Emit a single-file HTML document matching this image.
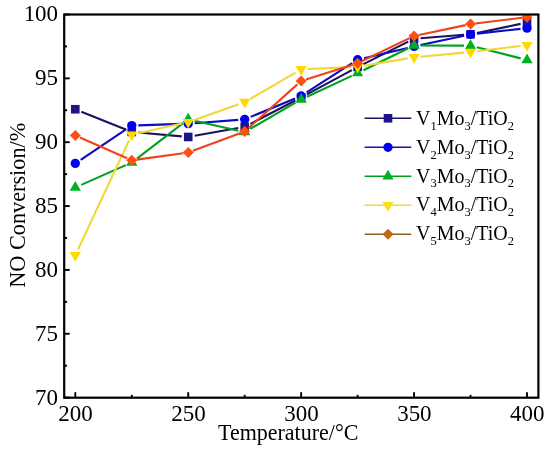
<!DOCTYPE html>
<html><head><meta charset="utf-8"><style>
html,body{margin:0;padding:0;background:#fff;}
body{width:550px;height:453px;overflow:hidden;}
svg{display:block;will-change:transform;font-family:"Liberation Serif",serif;}
</style></head><body>
<svg width="550" height="453" viewBox="0 0 550 453">
<rect width="550" height="453" fill="#fff"/>
<defs><clipPath id="pc"><rect x="64.2" y="14.5" width="474.2" height="383.2"/></clipPath></defs>
<g clip-path="url(#pc)">
<path d="M81.33 111.68L125.73 129.56M138.24 132.56L181.75 136.39M194.62 135.82L238.29 128.02M250.45 123.88L295.38 100.50M306.87 94.41L351.89 70.08M363.43 64.08L408.26 41.67M420.55 38.25L464.06 34.81M476.90 32.97L520.64 23.87" fill="none" stroke="#1a1460" stroke-width="2.1"/>
<rect x="71.00" y="104.95" width="8.60" height="8.60" fill="#1e148a"/>
<rect x="127.46" y="127.68" width="8.60" height="8.60" fill="#1e148a"/>
<rect x="183.93" y="132.66" width="8.60" height="8.60" fill="#1e148a"/>
<rect x="240.39" y="122.58" width="8.60" height="8.60" fill="#1e148a"/>
<rect x="296.85" y="93.20" width="8.60" height="8.60" fill="#1e148a"/>
<rect x="353.31" y="62.68" width="8.60" height="8.60" fill="#1e148a"/>
<rect x="409.78" y="34.46" width="8.60" height="8.60" fill="#1e148a"/>
<rect x="466.24" y="29.99" width="8.60" height="8.60" fill="#1e148a"/>
<rect x="522.70" y="18.25" width="8.60" height="8.60" fill="#1e148a"/>
<path d="M80.70 159.78L126.36 129.21M138.26 125.38L181.73 123.90M194.71 123.19L238.21 119.84M250.69 116.86L295.14 98.46M306.62 92.46L352.14 63.22M363.94 58.22L407.75 47.91M420.43 45.06L464.18 35.66M477.00 33.59L520.54 28.87" fill="none" stroke="#0c0cc0" stroke-width="2.1"/>
<circle cx="75.30" cy="163.40" r="4.65" fill="#0000f0"/>
<circle cx="131.76" cy="125.60" r="4.65" fill="#0000f0"/>
<circle cx="188.23" cy="123.68" r="4.65" fill="#0000f0"/>
<circle cx="244.69" cy="119.34" r="4.65" fill="#0000f0"/>
<circle cx="301.15" cy="95.97" r="4.65" fill="#0000f0"/>
<circle cx="357.61" cy="59.71" r="4.65" fill="#0000f0"/>
<circle cx="414.08" cy="46.42" r="4.65" fill="#0000f0"/>
<circle cx="470.54" cy="34.29" r="4.65" fill="#0000f0"/>
<circle cx="527.00" cy="28.16" r="4.65" fill="#0000f0"/>
<path d="M81.24 184.90L125.82 165.14M136.92 158.55L183.07 123.17M194.56 120.66L238.35 130.66M250.31 128.85L295.52 102.68M307.04 96.68L351.72 75.86M363.45 70.25L408.24 48.27M420.57 45.43L464.04 45.63M476.84 47.25L520.70 58.37" fill="none" stroke="#00a020" stroke-width="2.1"/>
<polygon points="75.30,181.07 80.90,190.77 69.70,190.77" fill="#00b020"/>
<polygon points="131.76,156.04 137.36,165.74 126.16,165.74" fill="#00b020"/>
<polygon points="188.23,112.75 193.83,122.45 182.63,122.45" fill="#00b020"/>
<polygon points="244.69,125.65 250.29,135.34 239.09,135.34" fill="#00b020"/>
<polygon points="301.15,92.95 306.75,102.65 295.55,102.65" fill="#00b020"/>
<polygon points="357.61,66.65 363.21,76.35 352.01,76.35" fill="#00b020"/>
<polygon points="414.08,38.94 419.68,48.64 408.48,48.64" fill="#00b020"/>
<polygon points="470.54,39.19 476.14,48.89 464.94,48.89" fill="#00b020"/>
<polygon points="527.00,53.49 532.60,63.19 521.40,63.19" fill="#00b020"/>
<path d="M78.06 249.33L129.01 140.55M138.11 133.26L181.88 123.56M194.35 119.98L238.56 104.28M250.31 98.84L295.53 72.55M307.64 69.00L351.12 67.14M364.02 65.77L407.67 58.37M420.55 56.68L464.07 52.64M476.99 51.27L520.55 46.05" fill="none" stroke="#f0d838" stroke-width="2.1"/>
<polygon points="75.30,261.68 80.90,251.98 69.70,251.98" fill="#ffd800"/>
<polygon points="131.76,141.13 137.36,131.43 126.16,131.43" fill="#ffd800"/>
<polygon points="188.23,128.62 193.83,118.92 182.63,118.92" fill="#ffd800"/>
<polygon points="244.69,108.57 250.29,98.87 239.09,98.87" fill="#ffd800"/>
<polygon points="301.15,75.75 306.75,66.05 295.55,66.05" fill="#ffd800"/>
<polygon points="357.61,73.32 363.21,63.62 352.01,63.62" fill="#ffd800"/>
<polygon points="414.08,63.75 419.68,54.05 408.48,54.05" fill="#ffd800"/>
<polygon points="470.54,58.51 476.14,48.81 464.94,48.81" fill="#ffd800"/>
<polygon points="527.00,51.74 532.60,42.04 521.40,42.04" fill="#ffd800"/>
<path d="M79.88 137.57L127.18 158.32M136.72 159.65L183.27 153.23M192.91 150.80L240.00 133.22M248.42 128.14L297.42 84.36M305.92 79.52L352.85 64.66M362.12 60.98L409.57 38.12M418.97 34.92L465.64 25.11M475.50 23.47L522.04 17.79" fill="none" stroke="#f0421c" stroke-width="2.1"/>
<polygon points="75.30,130.06 80.80,135.56 75.30,141.06 69.80,135.56" fill="#ff5010"/>
<polygon points="131.76,154.83 137.26,160.33 131.76,165.83 126.26,160.33" fill="#ff5010"/>
<polygon points="188.23,147.04 193.73,152.54 188.23,158.04 182.73,152.54" fill="#ff5010"/>
<polygon points="244.69,125.97 250.19,131.47 244.69,136.97 239.19,131.47" fill="#ff5010"/>
<polygon points="301.15,75.53 306.65,81.03 301.15,86.53 295.65,81.03" fill="#ff5010"/>
<polygon points="357.61,57.65 363.11,63.15 357.61,68.65 352.11,63.15" fill="#ff5010"/>
<polygon points="414.08,30.45 419.58,35.95 414.08,41.45 408.58,35.95" fill="#ff5010"/>
<polygon points="470.54,18.58 476.04,24.08 470.54,29.58 465.04,24.08" fill="#ff5010"/>
<polygon points="527.00,11.68 532.50,17.18 527.00,22.68 521.50,17.18" fill="#ff5010"/>
</g>
<rect x="64.2" y="14.5" width="474.2" height="383.2" fill="none" stroke="#000" stroke-width="2.2"/>
<line x1="75.30" y1="397.7" x2="75.30" y2="392.20" stroke="#000" stroke-width="1.9"/>
<line x1="131.76" y1="397.7" x2="131.76" y2="394.80" stroke="#000" stroke-width="1.9"/>
<line x1="188.23" y1="397.7" x2="188.23" y2="392.20" stroke="#000" stroke-width="1.9"/>
<line x1="244.69" y1="397.7" x2="244.69" y2="394.80" stroke="#000" stroke-width="1.9"/>
<line x1="301.15" y1="397.7" x2="301.15" y2="392.20" stroke="#000" stroke-width="1.9"/>
<line x1="357.61" y1="397.7" x2="357.61" y2="394.80" stroke="#000" stroke-width="1.9"/>
<line x1="414.08" y1="397.7" x2="414.08" y2="392.20" stroke="#000" stroke-width="1.9"/>
<line x1="470.54" y1="397.7" x2="470.54" y2="394.80" stroke="#000" stroke-width="1.9"/>
<line x1="527.00" y1="397.7" x2="527.00" y2="392.20" stroke="#000" stroke-width="1.9"/>
<line x1="64.2" y1="397.60" x2="69.70" y2="397.60" stroke="#000" stroke-width="1.9"/>
<line x1="64.2" y1="365.68" x2="67.10" y2="365.68" stroke="#000" stroke-width="1.9"/>
<line x1="64.2" y1="333.75" x2="69.70" y2="333.75" stroke="#000" stroke-width="1.9"/>
<line x1="64.2" y1="301.82" x2="67.10" y2="301.82" stroke="#000" stroke-width="1.9"/>
<line x1="64.2" y1="269.90" x2="69.70" y2="269.90" stroke="#000" stroke-width="1.9"/>
<line x1="64.2" y1="237.97" x2="67.10" y2="237.97" stroke="#000" stroke-width="1.9"/>
<line x1="64.2" y1="206.05" x2="69.70" y2="206.05" stroke="#000" stroke-width="1.9"/>
<line x1="64.2" y1="174.12" x2="67.10" y2="174.12" stroke="#000" stroke-width="1.9"/>
<line x1="64.2" y1="142.20" x2="69.70" y2="142.20" stroke="#000" stroke-width="1.9"/>
<line x1="64.2" y1="110.27" x2="67.10" y2="110.27" stroke="#000" stroke-width="1.9"/>
<line x1="64.2" y1="78.35" x2="69.70" y2="78.35" stroke="#000" stroke-width="1.9"/>
<line x1="64.2" y1="46.42" x2="67.10" y2="46.42" stroke="#000" stroke-width="1.9"/>
<line x1="64.2" y1="14.50" x2="69.70" y2="14.50" stroke="#000" stroke-width="1.9"/>
<text transform="translate(75.60,421.3) scale(1,1.025)" font-size="23" text-anchor="middle">200</text>
<text transform="translate(188.53,421.3) scale(1,1.025)" font-size="23" text-anchor="middle">250</text>
<text transform="translate(301.45,421.3) scale(1,1.025)" font-size="23" text-anchor="middle">300</text>
<text transform="translate(414.38,421.3) scale(1,1.025)" font-size="23" text-anchor="middle">350</text>
<text transform="translate(527.30,421.3) scale(1,1.025)" font-size="23" text-anchor="middle">400</text>
<text transform="translate(58.1,404.50) scale(1,1.025)" font-size="23" text-anchor="end">70</text>
<text transform="translate(58.1,340.65) scale(1,1.025)" font-size="23" text-anchor="end">75</text>
<text transform="translate(58.1,276.80) scale(1,1.025)" font-size="23" text-anchor="end">80</text>
<text transform="translate(58.1,212.95) scale(1,1.025)" font-size="23" text-anchor="end">85</text>
<text transform="translate(58.1,149.10) scale(1,1.025)" font-size="23" text-anchor="end">90</text>
<text transform="translate(58.1,85.25) scale(1,1.025)" font-size="23" text-anchor="end">95</text>
<text transform="translate(58.1,21.40) scale(1,1.025)" font-size="23" text-anchor="end">100</text>
<text transform="translate(288.2,439.9) scale(1,1.05)" font-size="22" text-anchor="middle">Temperature/°C</text>
<text transform="translate(25.4,205.25) rotate(-90) scale(1.012,1.07)" font-size="22" text-anchor="middle">NO Conversion/%</text>
<line x1="364.6" y1="118.3" x2="411.3" y2="118.3" stroke="#1a1460" stroke-width="1.6"/>
<rect x="383.70" y="114.00" width="8.60" height="8.60" fill="#1e148a"/>
<text transform="translate(416,125.00) scale(1,1.05)" font-size="20">V<tspan font-size="12.5" dy="4.6">1</tspan><tspan dy="-4.6">Mo</tspan><tspan font-size="12.5" dy="4.6">3</tspan><tspan dy="-4.6">/TiO</tspan><tspan font-size="12.5" dy="4.6">2</tspan></text>
<line x1="364.6" y1="147.3" x2="411.3" y2="147.3" stroke="#1414b0" stroke-width="1.6"/>
<circle cx="388.00" cy="147.30" r="4.65" fill="#0000f0"/>
<text transform="translate(416,153.80) scale(1,1.05)" font-size="20">V<tspan font-size="12.5" dy="4.6">2</tspan><tspan dy="-4.6">Mo</tspan><tspan font-size="12.5" dy="4.6">3</tspan><tspan dy="-4.6">/TiO</tspan><tspan font-size="12.5" dy="4.6">2</tspan></text>
<line x1="364.6" y1="176.3" x2="411.3" y2="176.3" stroke="#00a020" stroke-width="1.6"/>
<polygon points="388.00,169.83 393.60,179.53 382.40,179.53" fill="#00b020"/>
<text transform="translate(416,182.60) scale(1,1.05)" font-size="20">V<tspan font-size="12.5" dy="4.6">3</tspan><tspan dy="-4.6">Mo</tspan><tspan font-size="12.5" dy="4.6">3</tspan><tspan dy="-4.6">/TiO</tspan><tspan font-size="12.5" dy="4.6">2</tspan></text>
<line x1="364.6" y1="205.3" x2="411.3" y2="205.3" stroke="#f0d838" stroke-width="1.6"/>
<polygon points="388.00,211.77 393.60,202.07 382.40,202.07" fill="#ffde10"/>
<text transform="translate(416,211.40) scale(1,1.05)" font-size="20">V<tspan font-size="12.5" dy="4.6">4</tspan><tspan dy="-4.6">Mo</tspan><tspan font-size="12.5" dy="4.6">3</tspan><tspan dy="-4.6">/TiO</tspan><tspan font-size="12.5" dy="4.6">2</tspan></text>
<line x1="364.6" y1="234.3" x2="411.3" y2="234.3" stroke="#8a6424" stroke-width="1.6"/>
<polygon points="388.00,228.80 393.50,234.30 388.00,239.80 382.50,234.30" fill="#c0680e"/>
<text transform="translate(416,240.20) scale(1,1.05)" font-size="20">V<tspan font-size="12.5" dy="4.6">5</tspan><tspan dy="-4.6">Mo</tspan><tspan font-size="12.5" dy="4.6">3</tspan><tspan dy="-4.6">/TiO</tspan><tspan font-size="12.5" dy="4.6">2</tspan></text>
</svg>
</body></html>
